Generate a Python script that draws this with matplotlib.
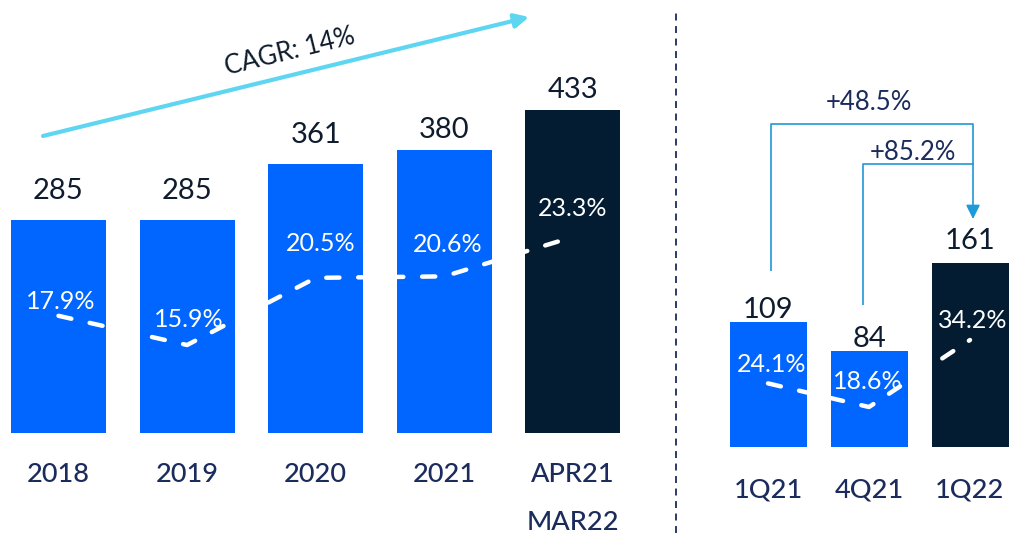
import matplotlib
matplotlib.use("Agg")
import matplotlib.pyplot as plt
from matplotlib.lines import Line2D

plt.rcParams['font.family'] = ['Lato', 'DejaVu Sans']
plt.rcParams['lines.scale_dashes'] = False

# ---------------- data ----------------
periods_left = ['2018', '2019', '2020', '2021', 'APR21\nMAR22']
ebitda_left = [285, 285, 361, 380, 433]
margin_left = [17.9, 15.9, 20.5, 20.6, 23.3]

periods_right = ['1Q21', '4Q21', '1Q22']
ebitda_right = [109, 84, 161]
margin_right = [24.1, 18.6, 34.2]

cagr_label = 'CAGR: 14%'
growth_labels = ['+48.5%', '+85.2%']

# ---------------- style ----------------
BLUE = '#0066FF'
DARK = '#031C31'
VAL = '#0E1C2E'
CAT = '#1B2B5B'
BRACKET = '#1F9AD8'
CAGR_C = '#5ED6F2'

W, H = 1009, 533
fig = plt.figure(figsize=(W / 100, H / 100), dpi=100)

# pixel (from top-left) -> data helpers for layout
def xl(px): return (px - 58.5) / 128.6
def yl(py): return (433 - py) / 0.746
def ml(py): return 15.9 + (345 - py) / 14.6

def xr(px): return (px - 768) / 101
def yr(py): return (447 - py) / 1.145
def mr(py): return 18.6 + (407 - py) / 4.295

# ---------------- left panel ----------------
axL = fig.add_axes([0, 0, 650 / W, 1])
axL.set_xlim(xl(0), xl(650))
axL.set_ylim(yl(H), yl(0))
axL.axis('off')
xs_left = list(range(len(periods_left)))
colors_left = [BLUE] * (len(periods_left) - 1) + [DARK]
axL.bar(xs_left, ebitda_left, width=95 / 128.6, color=colors_left, zorder=2)

val_off_left = [21, 21, 21, 12, 12]
for x, v, off in zip(xs_left, ebitda_left, val_off_left):
    axL.annotate(str(v), (x, v), xytext=(0, off), textcoords='offset pixels',
                 ha='center', va='baseline', fontsize=21, color=VAL)

for x, lab in zip(xs_left, periods_left):
    for k, line in enumerate(lab.split('\n')):
        axL.text(x, yl(481.5 + 48 * k), line, ha='center', va='baseline',
                 fontsize=19.5, color=CAT, fontweight='medium')

axL2 = axL.twinx()
axL2.set_ylim(ml(H), ml(0))
axL2.axis('off')
axL2.plot(xs_left, margin_left, color='white', lw=3.2, ls=(0, (9.5, 13.5)),
          dash_capstyle='round', solid_joinstyle='round', zorder=3)
pct_off_left = [(2, 7), (2, 18), (5, 27), (3, 24), (0, 21)]
for x, m, (dx, dy) in zip(xs_left, margin_left, pct_off_left):
    axL2.annotate(f'{m:.1f}%', (x, m), xytext=(dx, dy), textcoords='offset pixels',
                  ha='center', va='baseline', fontsize=18, color='white', zorder=4)

# CAGR arrow
axL.annotate('', xy=(529, H - 17), xycoords='figure pixels',
             xytext=(43, H - 136), textcoords='figure pixels',
             arrowprops=dict(arrowstyle='-|>,head_length=0.6,head_width=0.3',
                             color=CAGR_C, lw=3, shrinkA=0, shrinkB=0,
                             mutation_scale=14))
fig.text(290 / W, (H - 52) / H, cagr_label, rotation=13.8, ha='center', va='center',
         fontsize=18.5, color=VAL, rotation_mode='anchor')

# ---------------- right panel ----------------
axR = fig.add_axes([655 / W, 0, (W - 655) / W, 1])
axR.set_xlim(xr(655), xr(W))
axR.set_ylim(yr(H), yr(0))
axR.axis('off')
xs_right = list(range(len(periods_right)))
colors_right = [BLUE] * (len(periods_right) - 1) + [DARK]
axR.bar(xs_right, ebitda_right, width=77 / 101, color=colors_right, zorder=2)

val_off_right = [4, 4, 14]
for x, v, off in zip(xs_right, ebitda_right, val_off_right):
    axR.annotate(str(v), (x, v), xytext=(0, off), textcoords='offset pixels',
                 ha='center', va='baseline', fontsize=21, color=VAL)
for x, lab in zip(xs_right, periods_right):
    axR.text(x, yr(497.5), lab, ha='center', va='baseline', fontsize=19.5,
             color=CAT, fontweight='medium')

axR2 = axR.twinx()
axR2.set_ylim(mr(H), mr(0))
axR2.axis('off')
axR2.plot(xs_right, margin_right, color='white', lw=3.2, ls=(0, (9.5, 13.5)),
          dash_capstyle='round', solid_joinstyle='round', zorder=3)
pct_off_right = [(4, 11), (-1, 18), (3, 12)]
for x, m, (dx, dy) in zip(xs_right, margin_right, pct_off_right):
    axR2.annotate(f'{m:.1f}%', (x, m), xytext=(dx, dy), textcoords='offset pixels',
                  ha='center', va='baseline', fontsize=18, color='white', zorder=4)

# growth brackets
axR2.plot([xr(771), xr(771), xr(973)], [mr(271), mr(124), mr(124)],
          color=BRACKET, lw=1.2, solid_capstyle='butt')
axR2.annotate('', xy=(xr(973), mr(219)), xytext=(xr(973), mr(124)),
              arrowprops=dict(arrowstyle='-|>,head_length=0.6,head_width=0.3',
                              color=BRACKET, lw=1.2, shrinkA=0, shrinkB=0,
                              mutation_scale=14))
axR2.plot([xr(863), xr(863), xr(974)], [mr(305), mr(164), mr(164)],
          color=BRACKET, lw=1.2, solid_capstyle='butt')
axR2.text(xr(869), mr(110.5), growth_labels[0], ha='center', va='baseline',
          fontsize=18.5, color=CAT)
axR2.text(xr(913), mr(159.5), growth_labels[1], ha='center', va='baseline',
          fontsize=18.5, color=CAT)

# separator
fig.add_artist(Line2D([676 / W, 676 / W], [0, (H - 12) / H], transform=fig.transFigure,
                      color=CAT, lw=1.3, ls=(0, (5, 4))))

fig.savefig('out.png', dpi=100)
